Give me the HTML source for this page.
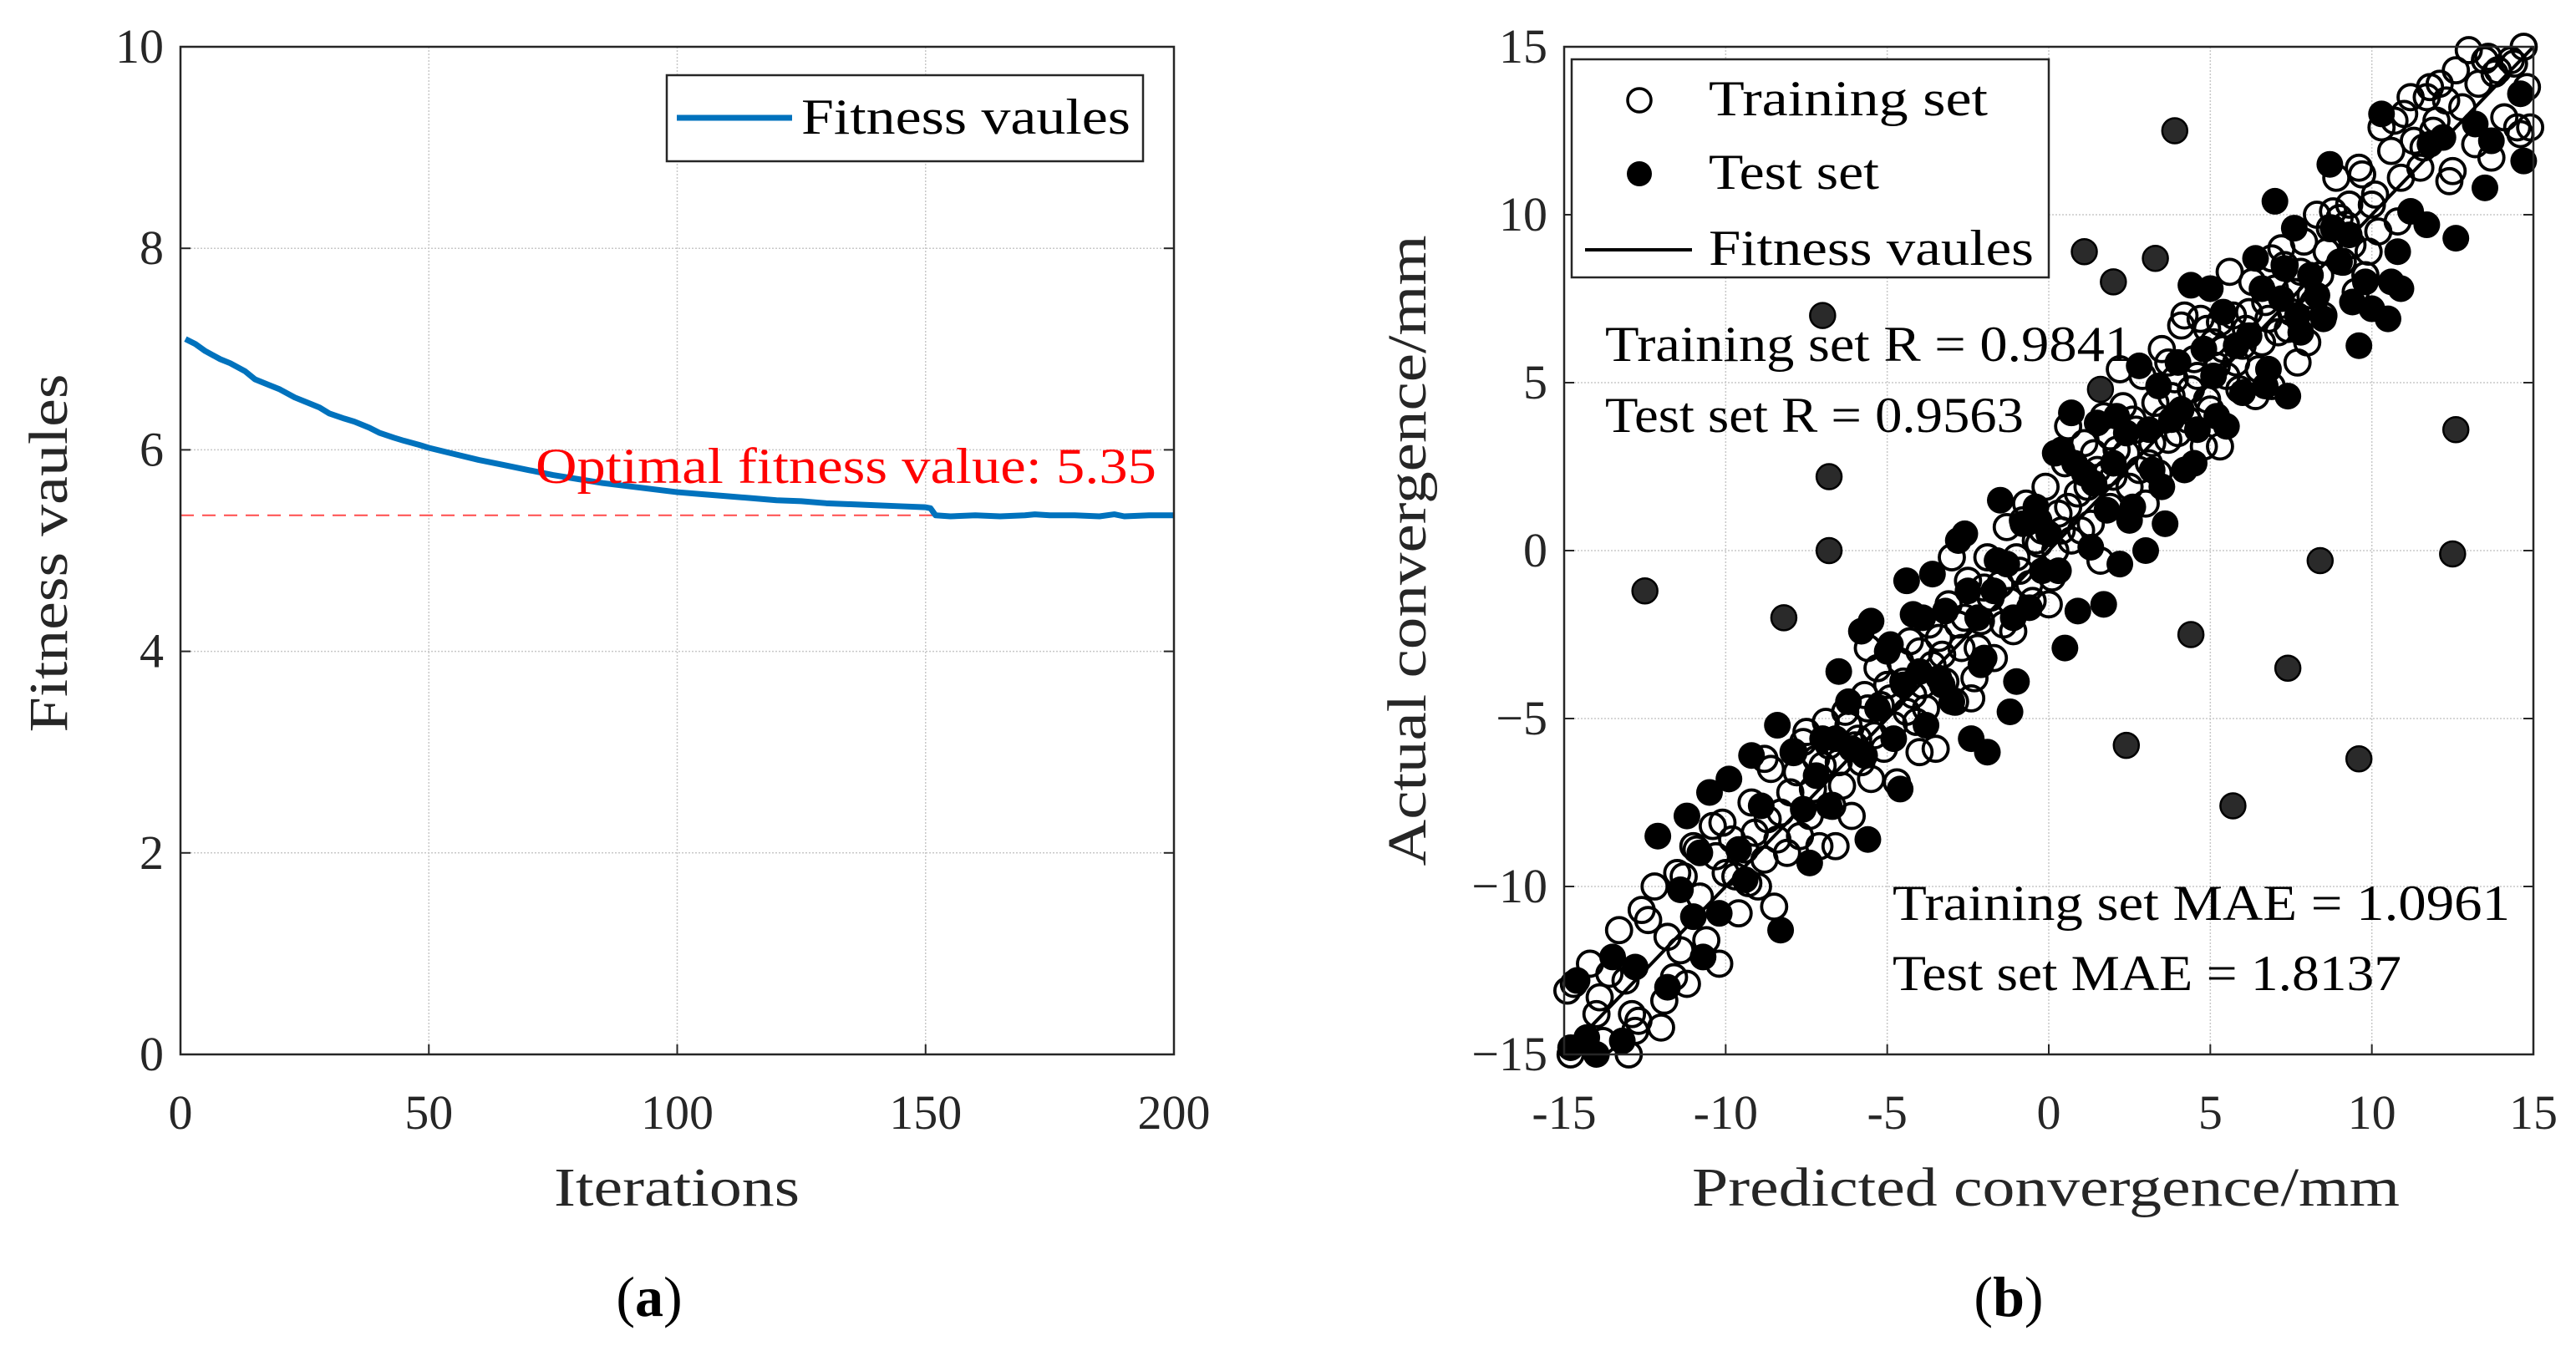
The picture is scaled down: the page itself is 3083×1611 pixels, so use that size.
<!DOCTYPE html>
<html><head><meta charset="utf-8"><style>
html,body{margin:0;padding:0;background:#fff;}
svg{display:block;font-family:"Liberation Serif",serif;}
</style></head><body>
<svg id="fig" width="3083" height="1611" viewBox="0 0 3083 1611" xmlns="http://www.w3.org/2000/svg">
<rect width="3083" height="1611" fill="#fff"/>
<g id="pa"></g>
<g id="pb"></g>
</svg>
<script>
// ---------- Panel (a) data ----------
const aIter = [1,3,5,8,10,13,15,18,20,23,25,28,30,33,35,38,40,43,45,48,50,55,60,65,70,75,80,85,90,95,100,105,110,115,120,125,130,135,140,145,150,151,152,155,160,165,170,172,175,180,185,188,190,195,200];
const aFit  = [7.1,7.05,6.98,6.9,6.86,6.78,6.7,6.64,6.6,6.52,6.48,6.42,6.36,6.31,6.28,6.22,6.17,6.12,6.09,6.05,6.02,5.96,5.9,5.85,5.8,5.75,5.71,5.67,5.64,5.61,5.58,5.56,5.54,5.52,5.5,5.49,5.47,5.46,5.45,5.44,5.43,5.42,5.35,5.34,5.35,5.34,5.35,5.36,5.35,5.35,5.34,5.36,5.34,5.35,5.35];
const aOptimal = 5.35;
const aXTicks = [0,50,100,150,200];
const aYTicks = [0,2,4,6,8,10];

// ---------- Panel (b) data ----------
const trainX = [-14.9,-14.7,-14.8,-14.2,-14.0,-13.6,-13.3,-13.0,-12.8,-12.6,-12.4,-12.2,-12.0,-11.8,-11.6,-11.3,-11.2,-11.0,-10.8,-10.6,-10.4,-10.2,-10.0,-9.8,-9.6,-9.4,-9.2,-9.0,-8.8,-8.6,-8.5,-8.3,-8.1,-7.9,-7.7,-7.5,-7.3,-7.1,-6.9,-6.7,-6.5,-6.3,-6.1,-5.9,-5.7,-5.5,-5.3,-5.1,-4.9,-4.7,-4.5,-4.3,-4.1,-3.9,-3.7,-3.5,-3.3,-3.1,-2.9,-2.7,-2.5,-2.3,-2.1,-1.9,-1.7,-1.5,-1.3,-1.1,-0.9,-0.7,-0.5,-0.3,-0.1,0.1,0.3,0.5,0.7,0.9,1.1,1.3,1.5,1.7,1.9,2.1,2.3,2.5,2.7,2.9,3.1,3.3,3.5,3.7,3.9,4.1,4.3,4.5,4.7,4.9,5.1,5.3,5.5,5.7,5.9,6.1,6.3,6.5,6.7,6.9,7.1,7.3,7.5,7.7,7.9,8.1,8.3,8.5,8.7,8.9,9.1,9.3,9.5,9.7,9.9,10.1,10.3,10.6,10.8,11.0,11.3,11.5,11.7,11.9,12.1,12.4,12.6,12.8,13.0,13.2,13.5,13.7,13.9,14.1,14.3,14.5,14.7,14.8,14.6,
-13.8,-12.9,-11.5,-10.3,-9.1,-8.0,-7.0,-6.0,-5.2,-4.4,-3.6,-2.8,-2.0,-1.2,-0.4,0.4,1.2,2.0,2.8,3.6,4.4,5.2,6.0,6.8,7.6,8.4,9.2,10.0,10.9,12.0,-6.6,-4.0,-2.4,0.0,1.6,3.0,4.8,6.4,8.0,9.8,-8.8,-5.6,-3.0,0.6,2.2,4.2,5.6,7.2,9.0,11.2,
-7.8,-7.4,-7.2,-6.8,-6.4,-6.2,-5.8,-5.6,-5.4,-5.0,-4.8,-4.6,-4.2,-4.0,-3.8,-3.4,-3.2,-2.6,-2.2,-1.8,-1.4,-1.0,-0.6,-0.2,0.2,0.6,1.0,1.4,1.8,2.4,2.6,3.2,3.4,3.8,4.0,4.6,5.0,5.4,5.8,6.2,6.6,7.0,7.4,7.8,8.2,8.6,9.4,10.2,10.7,11.6,12.3,13.3,13.8,14.4,14.9,12.5,13.6,11.8,
-13.9,-13.1,-12.7,-11.9,-11.4,-10.9,-10.1,-9.7,-9.3,-8.7,-8.4,-7.6,-0.8,1.9,3.7,5.3,6.9,8.8,9.6,4.9];
const trainY = [-13.1,-12.9,-15,-12.3,-13.8,-12.6,-11.3,-15,-14.3,-10.7,-11,-10,-14.2,-11.5,-12.7,-9.7,-12.9,-8.8,-10.3,-11.6,-8.2,-12.3,-9.6,-8.6,-10.8,-8.9,-7.5,-10.0,-9.2,-6.5,-10.6,-7.8,-9.0,-6.0,-8.5,-5.4,-7.1,-8.8,-5.1,-7.6,-6.3,-4.8,-7.9,-5.6,-4.3,-6.8,-3.5,-5.9,-4.4,-6.9,-3.9,-2.7,-5.1,-4.0,-2.2,-5.9,-3.1,-1.6,-4.5,-2.9,-0.9,-3.8,-2.1,-0.2,-3.2,-1.0,0.7,-2.4,-0.6,1.4,-1.5,0.2,1.9,-0.8,1.1,2.6,0.3,1.7,3.2,0.8,2.4,4.0,1.3,3.0,4.3,1.9,3.6,5.2,2.6,4.4,6.0,3.3,5.1,6.7,3.9,5.7,6.9,4.5,6.2,3.1,5.2,7.0,4.8,6.6,8.0,5.4,7.4,4.9,6.5,8.5,7.1,5.6,9.2,7.6,10.0,7.0,9.6,11.1,8.6,10.3,7.7,11.2,8.9,10.6,12.6,11.9,9.8,13.0,12.2,11.4,13.5,12.5,13.9,11.0,14.3,13.2,14.9,12.1,14.6,11.7,14.3,12.9,14.6,12.6,15.0,13.8,12.4,
-14.6,-13.8,-9.6,-9.1,-8.4,-7.2,-6.4,-5.8,-4.6,-4.8,-3.4,-2.2,-1.1,-1.5,0.3,0.6,1.9,2.2,2.4,3.9,4.8,5.5,6.1,6.9,7.7,8.2,9.7,10.3,11.1,12.8,-8.8,-6.0,-4.4,-1.6,-0.3,1.4,3.1,4.6,6.2,8.2,-6.2,-2.9,-0.2,3.7,5.4,7.0,8.3,9.0,9.9,13.5,
-6.6,-7.9,-6.2,-5.8,-7.0,-5.2,-6.3,-4.7,-5.5,-4.0,-5.2,-3.3,-4.3,-3.0,-4.7,-2.6,-3.9,-2.0,-2.9,-1.4,-2.2,-0.2,-1.0,0.6,0.0,1.3,0.6,2.9,2.3,2.9,3.9,3.2,2.3,4.6,3.5,5.2,4.2,6.0,5.6,7.1,6.2,7.8,6.6,8.3,7.4,8.9,9.1,9.5,12.8,12.0,13.4,13.9,14.2,14.5,12.6,11.3,14.7,13.8,
-13.3,-12.8,-14.0,-13.4,-11.9,-8.9,-8.1,-9.7,-9.9,-8.0,-8.6,-5.7,0.9,3.4,5.6,6.8,8.7,10.1,11.4,6.6];
const testX = [-14.6,-14.3,-14.0,-13.5,-13.2,-12.1,-11.8,-11.4,-11.2,-11.0,-10.7,-10.5,-10.2,-9.9,-9.6,-9.2,-8.9,-8.4,-8.3,-7.9,-7.6,-7.4,-7.0,-6.8,-6.5,-6.1,-5.8,-5.6,-5.5,-5.3,-5.0,-4.8,-4.6,-4.4,-4.2,-4.0,-3.8,-3.6,-3.4,-3.2,-3.0,-2.8,-2.6,-2.4,-2.2,-2.0,-1.9,-1.7,-1.5,-1.3,-1.2,-1.0,-0.8,-0.6,-0.4,-0.2,0.0,0.2,0.4,0.5,0.7,0.9,1.1,1.3,1.5,1.7,1.8,2.0,2.2,2.4,2.6,2.8,3.0,3.2,3.4,3.6,3.8,4.0,4.2,4.4,4.6,4.8,5.0,5.2,5.4,5.8,6.0,6.4,6.6,6.8,7.0,7.2,7.4,7.6,7.8,8.1,8.5,8.7,9.0,9.3,9.6,9.8,10.0,10.3,10.5,10.8,10.9,11.7,11.8,12.2,12.6,13.2,13.5,14.6,14.7,
-7.2,-6.6,-6.2,-5.7,-4.9,-4.5,-3.9,-3.3,-2.5,-2.1,-1.6,-1.1,-0.3,0.3,0.8,1.4,2.1,2.5,3.1,3.5,4.1,4.5,5.1,5.5,6.2,6.7,7.3,7.7,8.3,8.8,9.4,10.6,11.2,13.7,-9.4,-10.8,-12.8,-14.8];
const testY = [-12.8,-14.5,-15,-12.1,-14.6,-8.5,-13,-10.1,-7.9,-10.9,-12.1,-7.2,-10.8,-6.8,-8.9,-6.1,-7.6,-5.2,-11.3,-6.0,-7.7,-9.3,-5.6,-7.6,-3.6,-5.9,-2.4,-8.6,-2.1,-4.7,-3.0,-5.6,-7.1,-0.9,-1.9,-3.6,-5.2,-0.7,-3.8,-1.8,-4.5,0.3,0.5,-5.6,-2.0,-3.2,-6.0,-1.2,1.5,-0.4,-4.8,-3.9,0.8,-1.7,1.3,-0.6,0.5,2.9,3.0,-2.9,4.1,-1.8,2.3,0.1,3.8,-1.6,1.2,2.6,-0.4,3.5,1.3,5.5,0.0,2.4,4.9,0.8,3.9,5.6,2.4,7.9,3.6,6.0,7.8,4.0,7.1,6.1,4.7,8.7,7.8,5.4,10.4,7.5,4.6,9.6,6.5,8.2,6.9,11.5,8.6,9.4,6.1,8.0,7.2,13.0,6.9,8.9,7.8,9.7,12.1,12.3,9.3,12.7,10.8,13.6,11.6,
-6.7,-5.6,-4.5,-6.1,-2.8,-4.0,-2.0,-4.0,-1.2,-3.4,-0.3,-2.0,0.9,-0.6,2.6,2.0,4.0,0.9,3.6,1.9,4.2,2.6,5.2,3.7,6.4,4.9,8.4,7.0,7.6,9.6,7.4,8.0,10.1,12.2,-9.8,-9.0,-12.4,-14.8];
const outX = [-12.5,-7.0,-6.8,-6.8,-8.2,1.1,2.0,3.3,3.9,4.4,2.4,5.7,7.4,8.4,9.6,12.5,12.6,1.6];
const outY = [-1.2,7.0,2.2,0.0,-2.0,8.9,8.0,8.7,12.5,-2.5,-5.8,-7.6,-3.5,-0.3,-6.2,-0.1,3.6,4.8];
const bXTicks = [-15,-10,-5,0,5,10,15];
const bXLabels = ["-15","-10","-5","0","5","10","15"];
const bYTicks = [-15,-10,-5,0,5,10,15];
const bYLabels = ["\u221215","\u221210","\u22125","0","5","10","15"];

const NS = "http://www.w3.org/2000/svg";
function mk(parent, tag, attrs, text){
  const e = document.createElementNS(NS, tag);
  for (const k in attrs) e.setAttribute(k, attrs[k]);
  if (text !== undefined) e.textContent = text;
  parent.appendChild(e);
  return e;
}
const TF = 58;

// ---------- Panel (a) ----------
(function(){
  const g = document.getElementById('pa');
  const L=216, R=1405, T=56, B=1262;
  const sx = v => L + (v-0)/(200-0)*(R-L);
  const sy = v => B - (v-0)/(10-0)*(B-T);
  aXTicks.forEach(t=>{
    const x=sx(t);
    if(t>0&&t<200){ const gl=mk(g,'line',{x1:x,y1:T,x2:x,y2:B,stroke:'#c8c8c8','stroke-width':1.5,'stroke-dasharray':'2,2'});
        }
    mk(g,'line',{x1:x,y1:B,x2:x,y2:B-12,stroke:'#262626','stroke-width':2});
    const tl=mk(g,'text',{x:x,y:1351,'font-size':TF,'text-anchor':'middle',fill:'#262626'},String(t));
     
  });
  aYTicks.forEach(t=>{
    const y=sy(t);
    if(t>0&&t<10){ const gl=mk(g,'line',{x1:L,y1:y,x2:R,y2:y,stroke:'#c8c8c8','stroke-width':1.5,'stroke-dasharray':'2,2'});
        }
    mk(g,'line',{x1:L,y1:y,x2:L+12,y2:y,stroke:'#262626','stroke-width':2});
    mk(g,'line',{x1:R,y1:y,x2:R-12,y2:y,stroke:'#262626','stroke-width':2});
    const tl=mk(g,'text',{x:196,y:y+19,'font-size':TF,'text-anchor':'end',fill:'#262626'},String(t));
     
  });
  const ol=mk(g,'line',{x1:L,y1:sy(aOptimal),x2:R,y2:sy(aOptimal),stroke:'#ff4d4d','stroke-width':2,'stroke-dasharray':'16,10'});
   
  const pts = aIter.map((v,i)=>sx(v)+','+sy(aFit[i])).join(' ');
  const pl=mk(g,'polyline',{points:pts,fill:'none',stroke:'#0072BD','stroke-width':7,'stroke-linejoin':'round'});
   
  const ot=mk(g,'text',{x:641,y:578,'font-size':60,fill:'#ff0000',textLength:743,lengthAdjust:'spacingAndGlyphs'},'Optimal fitness value: 5.35');
   
  const ax=mk(g,'rect',{x:L,y:T,width:R-L,height:B-T,fill:'none',stroke:'#262626','stroke-width':2.5});
   
  const lg=mk(g,'g',{});
   
  mk(lg,'rect',{x:798,y:90,width:570,height:103,fill:'#fff',stroke:'#262626','stroke-width':2.5});
  mk(lg,'line',{x1:810,y1:141,x2:948,y2:141,stroke:'#0072BD','stroke-width':7});
  mk(lg,'text',{x:959,y:160,'font-size':60,fill:'#000',textLength:394,lengthAdjust:'spacingAndGlyphs'},'Fitness vaules');
  const yl=mk(g,'text',{x:0,y:0,'font-size':66,'text-anchor':'middle',fill:'#262626',textLength:429,lengthAdjust:'spacingAndGlyphs',transform:'translate(80,662) rotate(-90)'},'Fitness vaules');
   
  const xl=mk(g,'text',{x:663,y:1443,'font-size':66,fill:'#262626',textLength:294,lengthAdjust:'spacingAndGlyphs'},'Iterations');
   
  const cap=mk(g,'text',{x:777,y:1575,'font-size':68,'text-anchor':'middle',fill:'#000'});
   
  cap.innerHTML='(<tspan font-weight="bold">a</tspan>)';
})();

// ---------- Panel (b) ----------
(function(){
  const g = document.getElementById('pb');
  const L=1872, R=3032, T=56, B=1262;
  const sx = v => L + (v+15)/30*(R-L);
  const sy = v => B - (v+15)/30*(B-T);
  bXTicks.forEach((t,i)=>{
    const x=sx(t);
    if(i>0&&i<bXTicks.length-1){ const gl=mk(g,'line',{x1:x,y1:T,x2:x,y2:B,stroke:'#c8c8c8','stroke-width':1.5,'stroke-dasharray':'2,2'});
        }
    mk(g,'line',{x1:x,y1:B,x2:x,y2:B-12,stroke:'#262626','stroke-width':2});
    const tl=mk(g,'text',{x:x,y:1351,'font-size':TF,'text-anchor':'middle',fill:'#262626'},bXLabels[i]);
     
  });
  bYTicks.forEach((t,i)=>{
    const y=sy(t);
    if(i>0&&i<bYTicks.length-1){ const gl=mk(g,'line',{x1:L,y1:y,x2:R,y2:y,stroke:'#c8c8c8','stroke-width':1.5,'stroke-dasharray':'2,2'});
        }
    mk(g,'line',{x1:L,y1:y,x2:L+12,y2:y,stroke:'#262626','stroke-width':2});
    mk(g,'line',{x1:R,y1:y,x2:R-12,y2:y,stroke:'#262626','stroke-width':2});
    const tl=mk(g,'text',{x:1852,y:y+19,'font-size':TF,'text-anchor':'end',fill:'#262626'},bYLabels[i]);
     
  });
  const tg=mk(g,'g',{});
   
  trainX.forEach((v,i)=>{
    const c=mk(tg,'circle',{cx:sx(v),cy:sy(trainY[i]),r:15,fill:'none',stroke:'#000','stroke-width':3.8});
     
  });
  const sg=mk(g,'g',{});
   
  testX.forEach((v,i)=>{
    const c=mk(sg,'circle',{cx:sx(v),cy:sy(testY[i]),r:16,fill:'#000'});
     
  });
  outX.forEach((v,i)=>{
    const c=mk(sg,'circle',{cx:sx(v),cy:sy(outY[i]),r:15,fill:'#2a2a2a',stroke:'#000','stroke-width':2.5});
     
  });
  const fl=mk(g,'line',{x1:sx(-15),y1:sy(-15),x2:sx(15),y2:sy(15),stroke:'#000','stroke-width':4});
   
  const ax=mk(g,'rect',{x:L,y:T,width:R-L,height:B-T,fill:'none',stroke:'#262626','stroke-width':2.5});
   
  const lg=mk(g,'g',{});
   
  mk(lg,'rect',{x:1881,y:71,width:571,height:261,fill:'#fff',stroke:'#262626','stroke-width':2.5});
  mk(lg,'circle',{cx:1962,cy:120,r:14,fill:'none',stroke:'#000','stroke-width':3.5});
  mk(lg,'text',{x:2045,y:138,'font-size':60,fill:'#000',textLength:334,lengthAdjust:'spacingAndGlyphs'},'Training set');
  mk(lg,'circle',{cx:1962,cy:208,r:15,fill:'#000'});
  mk(lg,'text',{x:2045,y:226,'font-size':60,fill:'#000',textLength:204,lengthAdjust:'spacingAndGlyphs'},'Test set');
  mk(lg,'line',{x1:1897,y1:299,x2:2025,y2:299,stroke:'#000','stroke-width':4});
  mk(lg,'text',{x:2045,y:317,'font-size':60,fill:'#000',textLength:389,lengthAdjust:'spacingAndGlyphs'},'Fitness vaules');
  const a1=mk(g,'text',{x:1921,y:432,'font-size':60,fill:'#000',textLength:631,lengthAdjust:'spacingAndGlyphs'},'Training set R = 0.9841');
   
  const a2=mk(g,'text',{x:1921,y:517,'font-size':60,fill:'#000',textLength:501,lengthAdjust:'spacingAndGlyphs'},'Test set R = 0.9563');
   
  const a3=mk(g,'text',{x:2265,y:1101,'font-size':60,fill:'#000',textLength:739,lengthAdjust:'spacingAndGlyphs'},'Training set MAE = 1.0961');
   
  const a4=mk(g,'text',{x:2265,y:1185,'font-size':60,fill:'#000',textLength:609,lengthAdjust:'spacingAndGlyphs'},'Test set MAE = 1.8137');
   
  const yl=mk(g,'text',{x:0,y:0,'font-size':66,'text-anchor':'middle',fill:'#262626',textLength:755,lengthAdjust:'spacingAndGlyphs',transform:'translate(1706,659) rotate(-90)'},'Actual convergence/mm');
   
  const xl=mk(g,'text',{x:2025,y:1443,'font-size':66,fill:'#262626',textLength:847,lengthAdjust:'spacingAndGlyphs'},'Predicted convergence/mm');
   
  const cap=mk(g,'text',{x:2404,y:1575,'font-size':68,'text-anchor':'middle',fill:'#000'});
   
  cap.innerHTML='(<tspan font-weight="bold">b</tspan>)';
})();
</script>
</body></html>
